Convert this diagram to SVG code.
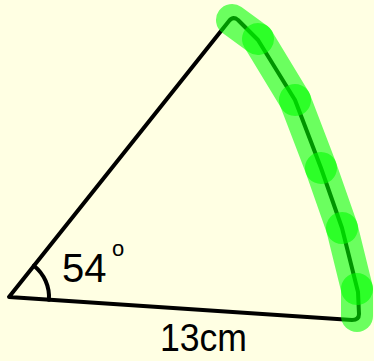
<svg xmlns="http://www.w3.org/2000/svg" width="374" height="361" viewBox="0 0 374 361">
<style>
.ln{fill:none;stroke:#000;stroke-width:4;stroke-linejoin:round;stroke-linecap:round}
.hl{stroke:#00ff00;stroke-opacity:0.58;stroke-width:32;stroke-linecap:round;fill:none}
.t{font-family:"Liberation Sans",Arial,sans-serif;fill:#000}
</style>
<rect width="374" height="361" fill="#ffffe3"/>
<g id="sector">
<path class="ln" d="M9,297 L229,21 Q233,16 238,20 L258,40 L295,100 L321,168 L342,228 L358,292 L359,314 Q359,320 352,320 Z"/>
</g>
<g id="angle">
<path class="ln" d="M33.9,265.7 A40,40 0 0 1 48.9,299.8"/>
<text class="t" x="62" y="282" font-size="40">54</text>
<text class="t" x="112" y="256" font-size="22">o</text>
</g>
<g id="highlight">
<line class="hl" x1="232" y1="20" x2="258" y2="39"/>
<line class="hl" x1="258" y1="39" x2="295" y2="100"/>
<line class="hl" x1="295" y1="100" x2="321" y2="168"/>
<line class="hl" x1="321" y1="168" x2="342" y2="228"/>
<line class="hl" x1="342" y1="228" x2="357" y2="289"/>
<line class="hl" x1="357" y1="289" x2="357" y2="316"/>
</g>
<g id="label">
<text class="t" x="160" y="351" font-size="38" textLength="87" lengthAdjust="spacingAndGlyphs">13cm</text>
</g>
</svg>
